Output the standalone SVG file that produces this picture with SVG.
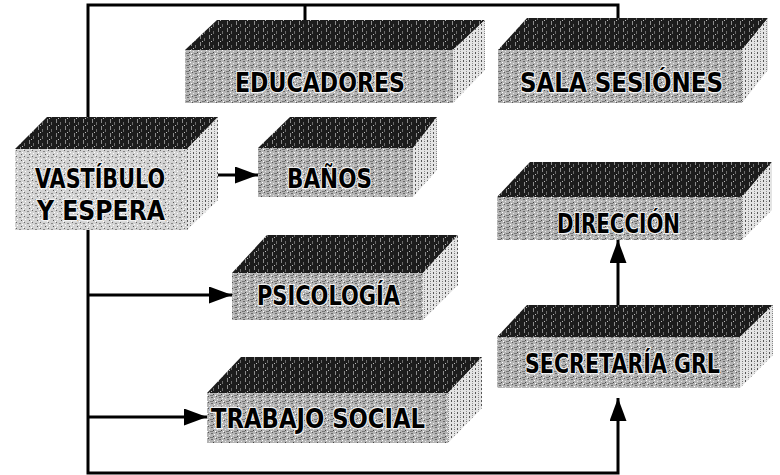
<svg xmlns="http://www.w3.org/2000/svg" width="780" height="475" viewBox="0 0 780 475">
<defs>
<pattern id="pf" width="8" height="6" patternUnits="userSpaceOnUse">
<rect width="8" height="6" fill="#b4b4b4"/>
<rect x="0" y="0" width="1" height="1" fill="#555"/>
<rect x="3" y="1" width="2" height="1" fill="#6a6a6a"/>
<rect x="6" y="2" width="1" height="1" fill="#fff"/>
<rect x="1" y="3" width="1" height="1" fill="#e8e8e8"/>
<rect x="5" y="4" width="1" height="1" fill="#444"/>
<rect x="2" y="5" width="3" height="1" fill="#777"/>
<rect x="7" y="5" width="1" height="1" fill="#fff"/>
</pattern>
<pattern id="pv" width="8" height="6" patternUnits="userSpaceOnUse">
<rect width="8" height="6" fill="#d2d2d2"/>
<rect x="0" y="0" width="1" height="1" fill="#666"/>
<rect x="3" y="1" width="2" height="1" fill="#888"/>
<rect x="6" y="2" width="1" height="1" fill="#fff"/>
<rect x="1" y="3" width="1" height="1" fill="#fff"/>
<rect x="5" y="4" width="1" height="1" fill="#555"/>
<rect x="7" y="5" width="1" height="1" fill="#fff"/>
</pattern>
<pattern id="pt" width="9" height="7" patternUnits="userSpaceOnUse">
<rect width="9" height="7" fill="#1c1c1c"/>
<rect x="2" y="0" width="1" height="4" fill="#8a8a8a"/>
<rect x="6" y="3" width="1" height="3" fill="#6a6a6a"/>
<rect x="4" y="6" width="1" height="1" fill="#bbb"/>
</pattern>
<pattern id="ps" width="6" height="4" patternUnits="userSpaceOnUse">
<rect width="6" height="4" fill="#e4e4e4"/>
<rect x="1" y="0" width="1" height="2" fill="#555"/>
<rect x="4" y="1" width="1" height="1" fill="#777"/>
<rect x="4" y="3" width="1" height="1" fill="#999"/>
</pattern>
<marker id="ah" markerUnits="userSpaceOnUse" markerWidth="26" markerHeight="18" refX="23" refY="8.5" orient="auto">
<path d="M0,0 L23,8.5 L0,17 z" fill="#000"/>
</marker>
<style>
.front{fill:url(#pf)}
.top{fill:url(#pt)}
.side{fill:url(#ps)}
.lbl{font-family:"DejaVu Sans","Liberation Sans",sans-serif;font-weight:bold;font-size:27px;fill:#000;stroke:#f0f0f0;stroke-width:2.5;paint-order:stroke;stroke-linejoin:round}
.con{fill:none;stroke:#000;stroke-width:3}
</style>
</defs>
<rect width="780" height="475" fill="#fff"/>

<g id="connectors">
<path class="con" d="M88,118 V5 H618 V20"/>
<path class="con" d="M305,5 V52"/>
<path class="con" d="M88,230 V473 H618 V398" marker-end="url(#ah)"/>
<path class="con" d="M187,175 H258" marker-end="url(#ah)"/>
<path class="con" d="M88,295 H232" marker-end="url(#ah)"/>
<path class="con" d="M88,417 H207" marker-end="url(#ah)"/>
<path class="con" d="M618,337 V240" marker-end="url(#ah)"/>
</g>

<g id="educadores">
<polygon class="top" points="185,50 217,20 485,20 453,50"/>
<polygon class="side" points="453,50 485,20 485,70 453,103"/>
<rect class="front" x="185" y="50" width="268" height="53"/>
<text class="lbl" x="235" y="92" textLength="170" lengthAdjust="spacingAndGlyphs">EDUCADORES</text>
</g>

<g id="sala">
<polygon class="top" points="498,50 527,18 768,18 742,50"/>
<polygon class="side" points="742,50 768,18 768,70 742,103"/>
<rect class="front" x="498" y="50" width="244" height="53"/>
<text class="lbl" x="520" y="92" textLength="203" lengthAdjust="spacingAndGlyphs">SALA SESIÓNES</text>
</g>

<g id="vastibulo">
<polygon class="top" points="15,149 47,117 218,117 187,149"/>
<polygon class="side" points="187,149 218,117 218,200 187,230"/>
<rect x="15" y="149" width="172" height="81" fill="url(#pv)"/>
<text class="lbl" x="35" y="188" textLength="130" lengthAdjust="spacingAndGlyphs">VASTÍBULO</text>
<text class="lbl" x="37" y="220" textLength="128" lengthAdjust="spacingAndGlyphs">Y ESPERA</text>
</g>

<g id="banos">
<polygon class="top" points="258,148 290,117 437,117 413,148"/>
<polygon class="side" points="413,148 437,117 437,170 413,197"/>
<rect class="front" x="258" y="148" width="155" height="49"/>
<text class="lbl" x="287" y="188" textLength="85" lengthAdjust="spacingAndGlyphs">BAÑOS</text>
</g>

<g id="psicologia">
<polygon class="top" points="232,273 267,235 458,235 423,273"/>
<polygon class="side" points="423,273 458,235 458,285 423,320"/>
<rect class="front" x="232" y="273" width="191" height="47"/>
<text class="lbl" x="257" y="305" textLength="143" lengthAdjust="spacingAndGlyphs">PSICOLOGÍA</text>
</g>

<g id="trabajo">
<polygon class="top" points="207,393 241,357 482,357 448,393"/>
<polygon class="side" points="448,393 482,357 482,408 448,443"/>
<rect class="front" x="207" y="393" width="241" height="50"/>
<text class="lbl" x="211" y="428" textLength="214" lengthAdjust="spacingAndGlyphs">TRABAJO SOCIAL</text>
</g>

<g id="direccion">
<polygon class="top" points="497,197 530,162 772,162 742,197"/>
<polygon class="side" points="742,197 772,162 772,210 742,240"/>
<rect class="front" x="497" y="197" width="245" height="43"/>
<text class="lbl" x="557" y="233" textLength="123" lengthAdjust="spacingAndGlyphs">DIRECCIÓN</text>
</g>

<g id="secretaria">
<polygon class="top" points="497,337 527,305 773,305 740,337"/>
<polygon class="side" points="740,337 773,305 773,355 740,388"/>
<rect class="front" x="497" y="337" width="243" height="51"/>
<text class="lbl" x="525" y="373" textLength="195" lengthAdjust="spacingAndGlyphs">SECRETARÍA GRL</text>
</g>
</svg>
